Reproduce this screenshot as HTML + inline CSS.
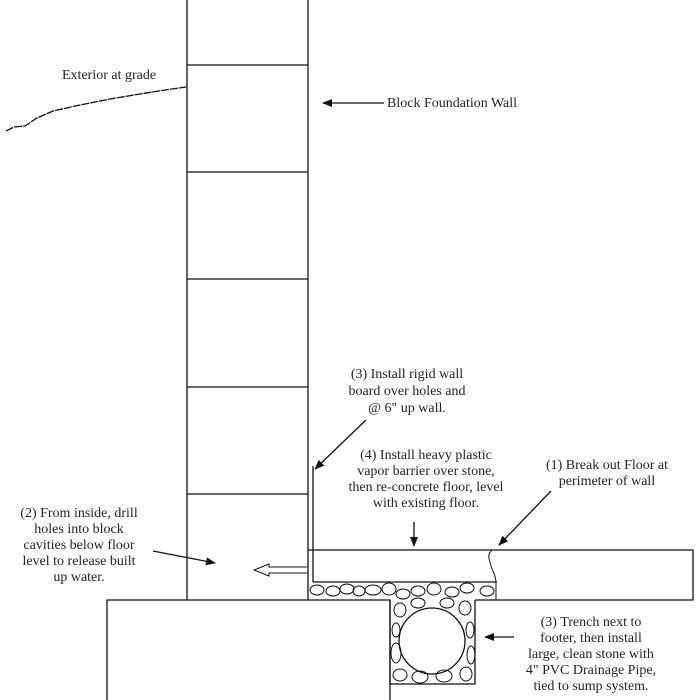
<!DOCTYPE html>
<html><head><meta charset="utf-8"><style>
html,body{margin:0;padding:0;background:#fff;}
svg{display:block;}
text{font-family:"Liberation Serif",serif;font-size:14px;fill:#222;}
</style></head><body>
<svg width="700" height="700" viewBox="0 0 700 700" xmlns="http://www.w3.org/2000/svg">
<defs>
<marker id="ah" markerWidth="10" markerHeight="8" refX="9" refY="4" orient="auto" markerUnits="userSpaceOnUse">
<path d="M0,0 L10,4 L0,8 Z" fill="#111"/></marker>
</defs>
<g stroke="#111" stroke-width="1.3" fill="none">
<line x1="187" y1="0" x2="187" y2="600"/>
<line x1="308" y1="0" x2="308" y2="600"/>
<line x1="187" y1="65" x2="308" y2="65"/>
<line x1="187" y1="172" x2="308" y2="172"/>
<line x1="187" y1="279" x2="308" y2="279"/>
<line x1="187" y1="387" x2="308" y2="387"/>
<line x1="187" y1="494" x2="308" y2="494"/>
<path d="M6,131 L14,127 L25,126 L37,118 L53,111 L80,105 L110,99 L140,94 L165,90 L186,87" stroke-dasharray="8,1"/>
<path d="M107,700 L107,600 L390,600 L390,700"/>
<path d="M390,600 L390,684 L475,684 L475,600"/>
<path d="M308,550 L693,550 L693,600 L475,600"/>
<line x1="313" y1="582" x2="497" y2="582"/>
<line x1="313" y1="466" x2="313" y2="582"/>
<path d="M492,550 C486,556 490,560 491,566 C493,572 496,576 496,584 L496,600" stroke-width="1"/>
<ellipse cx="432" cy="641" rx="33" ry="33"/>
<g stroke-width="1">
<ellipse cx="317" cy="590" rx="7" ry="5"/><ellipse cx="333" cy="591" rx="7" ry="5"/>
<ellipse cx="347" cy="589" rx="7" ry="5"/><ellipse cx="359" cy="591" rx="6" ry="5"/>
<ellipse cx="373" cy="590" rx="8" ry="5"/><ellipse cx="389" cy="589" rx="7" ry="6"/>
<ellipse cx="403" cy="594" rx="7" ry="5"/><ellipse cx="418" cy="591" rx="7" ry="5"/>
<ellipse cx="434" cy="589" rx="7" ry="6"/><ellipse cx="452" cy="592" rx="7" ry="5"/>
<ellipse cx="467" cy="588" rx="7" ry="5"/><ellipse cx="487" cy="591" rx="7" ry="5"/>
<ellipse cx="400" cy="610" rx="6" ry="7"/><ellipse cx="418" cy="603" rx="7" ry="5"/>
<ellipse cx="447" cy="603" rx="7" ry="5"/><ellipse cx="465" cy="608" rx="6" ry="7"/>
<ellipse cx="396" cy="630" rx="4" ry="7"/><ellipse cx="396" cy="653" rx="5" ry="10"/>
<ellipse cx="470" cy="630" rx="4" ry="8"/><ellipse cx="471" cy="655" rx="4" ry="9"/>
<ellipse cx="400" cy="675" rx="7" ry="6"/><ellipse cx="420" cy="677" rx="8" ry="6"/>
<ellipse cx="444" cy="676" rx="8" ry="6"/><ellipse cx="466" cy="674" rx="6" ry="7"/>
</g>
<line x1="384" y1="103" x2="323" y2="103" marker-end="url(#ah)"/>
<line x1="366" y1="420" x2="315" y2="469" marker-end="url(#ah)"/>
<line x1="414" y1="522" x2="414" y2="546" marker-end="url(#ah)"/>
<line x1="551" y1="491" x2="499" y2="545" marker-end="url(#ah)"/>
<line x1="153" y1="551" x2="215" y2="563" marker-end="url(#ah)"/>
<line x1="514" y1="637" x2="485" y2="637" marker-end="url(#ah)"/>
<path d="M307,567 L269,567 L269,564 L254,570 L269,576 L269,573 L307,573" stroke-width="1"/>
</g>
<text x="62" y="79">Exterior at grade</text>
<text x="387" y="107">Block Foundation Wall</text>
<g text-anchor="middle">
<text x="407" y="378">(3) Install rigid wall</text>
<text x="407" y="395">board over holes and</text>
<text x="407" y="412">@ 6" up wall.</text>
<text x="426" y="459">(4) Install heavy plastic</text>
<text x="426" y="475">vapor barrier over stone,</text>
<text x="426" y="491">then re-concrete floor, level</text>
<text x="426" y="507">with existing floor.</text>
<text x="607" y="469">(1) Break out Floor at</text>
<text x="607" y="485">perimeter of wall</text>
<text x="79" y="517">(2) From inside, drill</text>
<text x="79" y="533">holes into block</text>
<text x="79" y="549">cavities below floor</text>
<text x="79" y="565">level to release built</text>
<text x="79" y="581">up water.</text>
<text x="591" y="626">(3) Trench next to</text>
<text x="591" y="642">footer, then install</text>
<text x="591" y="658">large, clean stone with</text>
<text x="591" y="674">4" PVC Drainage Pipe,</text>
<text x="591" y="690">tied to sump system.</text>
</g>
</svg>
</body></html>
